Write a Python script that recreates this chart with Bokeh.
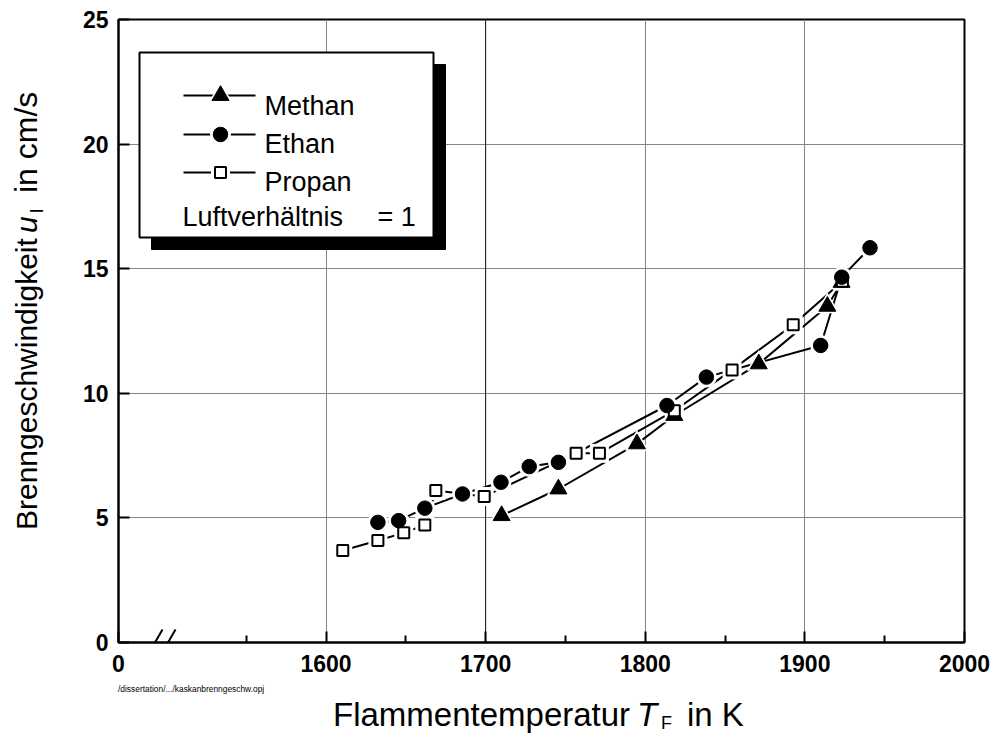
from bokeh.plotting import figure
from bokeh.models import FixedTicker, Label, Span, Range1d, Div
from bokeh.layouts import row, column
from bokeh.embed import file_html
from bokeh.resources import INLINE

# ---------------- data ----------------
methan_T = [1710.0, 1745.6, 1794.8, 1818.2, 1871.1, 1914.1, 1923.0]
methan_u = [5.09, 6.16, 7.97, 9.11, 11.18, 13.49, 14.45]

ethan_T = [1632.5, 1645.5, 1661.9, 1685.5, 1709.6, 1727.3, 1745.6, 1813.6, 1838.3, 1909.9, 1923.1, 1940.8]
ethan_u = [4.82, 4.89, 5.39, 5.96, 6.43, 7.06, 7.23, 9.51, 10.65, 11.92, 14.66, 15.84]

propan_T = [1610.5, 1632.5, 1648.7, 1661.9, 1668.8, 1699.1, 1756.7, 1771.3, 1818.2, 1854.4, 1892.7, 1923.5]
propan_u = [3.69, 4.09, 4.40, 4.72, 6.10, 5.86, 7.59, 7.59, 9.30, 10.94, 12.75, 14.50]

x_ticks = [1470, 1600, 1700, 1800, 1900, 2000]
x_tick_labels = ["0", "1600", "1700", "1800", "1900", "2000"]
x_minor_ticks = [1550, 1650, 1750, 1850, 1950]
x_grid = [1600, 1700, 1800, 1900]
y_ticks = [0, 5, 10, 15, 20, 25]
y_grid = [5, 10, 15, 20]

series_names = ["Methan", "Ethan", "Propan"]

# ---------------- layout (page pixels) ----------------
W, H = 994, 733
LW = 60          # width of left title strip
BH = 50          # height of bottom title strip
PW, PH = W - LW, H - BH
FL, FR, FT, FB = 118, 964, 19, 642   # frame edges in page pixels
X0, X1, Y0, Y1 = 1470, 2000, 0, 25
FONT = "Liberation Sans"


def fx(px):
    return X0 + (px - FL) * (X1 - X0) / (FR - FL)


def fy(py):
    return Y0 + (FB - py) * (Y1 - Y0) / (FB - FT)


p = figure(width=PW, height=PH, output_backend="svg", toolbar_location=None,
           x_range=Range1d(X0, X1), y_range=Range1d(Y0, Y1),
           min_border_left=FL - LW, min_border_right=W - FR,
           min_border_top=FT, min_border_bottom=PH - FB, margin=0)
p.background_fill_color = "white"
p.border_fill_color = "white"
p.outline_line_color = "black"
p.outline_line_width = 2
p.outline_line_alpha = 1.0

# axes
p.xaxis.ticker = FixedTicker(ticks=x_ticks, minor_ticks=x_minor_ticks)
p.xaxis.major_label_overrides = {t: l for t, l in zip(x_ticks, x_tick_labels)}
p.yaxis.ticker = FixedTicker(ticks=y_ticks, minor_ticks=[])
for ax in (p.xaxis, p.yaxis):
    ax.axis_line_width = 2
    ax.axis_line_color = "black"
    ax.major_tick_in = 11
    ax.major_tick_out = 0
    ax.major_tick_line_width = 2
    ax.major_tick_line_color = "black"
    ax.minor_tick_in = 7
    ax.minor_tick_out = 0
    ax.minor_tick_line_width = 2
    ax.minor_tick_line_color = "black"
    ax.major_label_text_font = FONT
    ax.major_label_text_font_style = "bold"
    ax.major_label_text_font_size = "23px"
    ax.major_label_text_color = "black"
p.xaxis.major_label_standoff = 12
p.yaxis.major_label_standoff = 10
p.yaxis.minor_tick_line_color = None

# grid
p.xgrid.ticker = FixedTicker(ticks=x_grid)
p.ygrid.ticker = FixedTicker(ticks=y_grid)
for g in (p.xgrid, p.ygrid):
    g.grid_line_color = "#858585"
    g.grid_line_width = 1
p.add_layout(Span(location=1700, dimension="height", line_color="#1a1a1a",
                  line_width=1, level="underlay"))

# axis break marks (part inside the frame)
p.segment(x0=[fx(147), fx(160)], y0=[fy(655), fy(655)],
          x1=[fx(162), fx(175)], y1=[fy(629), fy(629)], line_color="black", line_width=2)

# data lines
for T, u in ((methan_T, methan_u), (propan_T, propan_u), (ethan_T, ethan_u)):
    p.line(T, u, line_color="black", line_width=2)

# white halos (line gaps around markers)
p.scatter(methan_T, methan_u, marker="triangle", size=24, fill_color="white", line_color=None)
p.scatter(propan_T, propan_u, marker="square", size=19, fill_color="white", line_color=None)
p.scatter(ethan_T, ethan_u, marker="circle", size=21, fill_color="white", line_color=None)

# markers
p.scatter(methan_T, methan_u, marker="triangle", size=17, fill_color="black", line_color="black")
p.scatter(propan_T, propan_u, marker="square", size=11, fill_color="white",
          line_color="black", line_width=2)
p.scatter(ethan_T, ethan_u, marker="circle", size=14.5, fill_color="black", line_color="black")

# ---------------- legend box ----------------
bx0, by0, bx1, by1 = 139, 52, 433, 237
p.quad(left=fx(bx0 + 12), right=fx(bx1 + 12), top=fy(by0 + 12), bottom=fy(by1 + 12),
       fill_color="black", line_color="black")
p.quad(left=fx(bx0), right=fx(bx1), top=fy(by0), bottom=fy(by1),
       fill_color="white", line_color="black", line_width=2)

rows_y = [95, 134, 172]
markers = [("triangle", 17, "black", 24), ("circle", 14.5, "black", 21), ("square", 11, "white", 19)]
for ry, (mk, sz, fc, hs) in zip(rows_y, markers):
    p.line([fx(183), fx(255)], [fy(ry), fy(ry)], line_color="black", line_width=2)
    p.scatter([fx(220)], [fy(ry)], marker=mk, size=hs, fill_color="white", line_color=None)
    p.scatter([fx(220)], [fy(ry)], marker=mk, size=sz, fill_color=fc, line_color="black",
              line_width=2 if mk == "square" else 1)

for name, base in zip(series_names, [105, 143, 181]):
    p.add_layout(Label(x=fx(264), y=fy(base), text=name, text_font=FONT,
                       text_font_size="27px", text_baseline="alphabetic", text_color="black"))
p.add_layout(Label(x=fx(182), y=fy(216), text="Luftverhältnis", text_font=FONT,
                   text_font_size="27px", text_baseline="alphabetic", text_color="black"))
p.add_layout(Label(x=fx(377), y=fy(216), text="= 1", text_font=FONT,
                   text_font_size="27px", text_baseline="alphabetic", text_color="black"))


# ---------------- axis titles (HTML text strips) ----------------
def span_h(text, left, baseline, size, extra=""):
    top = baseline - 0.8465 * size
    return (f'<span style="position:absolute;left:{left}px;top:{top:.1f}px;'
            f'font-size:{size}px;line-height:1;white-space:nowrap;{extra}">{text}</span>')


def span_v(text, bx, by, size, extra=""):
    b = 0.8465 * size
    return (f'<span style="position:absolute;left:0;top:0;transform-origin:0 0;'
            f'transform:translate({bx - b:.1f}px,{by:.1f}px) rotate(-90deg);'
            f'font-size:{size}px;line-height:1;white-space:nowrap;{extra}">{text}</span>')


box_style = f"position:relative;font-family:'{FONT}',sans-serif;color:#000;"

left_html = (f'<div style="{box_style}width:{LW}px;height:{H}px;">'
             + span_v("Brenngeschwindigkeit", 37, 530, 30)
             + span_v("u", 37, 233, 30, "font-style:italic;")
             + span_v("l", 43, 213, 19)
             + span_v("in cm/s", 37, 193, 32)
             + '</div>')

oy = PH
bottom_html = (f'<div style="{box_style}width:{PW}px;height:{BH}px;">'
               + span_h("/dissertation/.../kaskanbrenngeschw.opj", 118 - LW, 692 - oy, 8.4)
               + span_h("Flammentemperatur", 333 - LW, 726 - oy, 33)
               + span_h("T", 637 - LW, 726 - oy, 33, "font-style:italic;")
               + span_h("F", 661 - LW, 729 - oy, 18)
               + span_h("in K", 687 - LW, 726 - oy, 33)
               + '</div>')

div_left = Div(text=left_html, width=LW, height=H, margin=0)
div_bottom = Div(text=bottom_html, width=PW, height=BH, margin=0)

layout = row(div_left, column(p, div_bottom, spacing=0), spacing=0)

open("out.html", "w").write(file_html(layout, INLINE))
